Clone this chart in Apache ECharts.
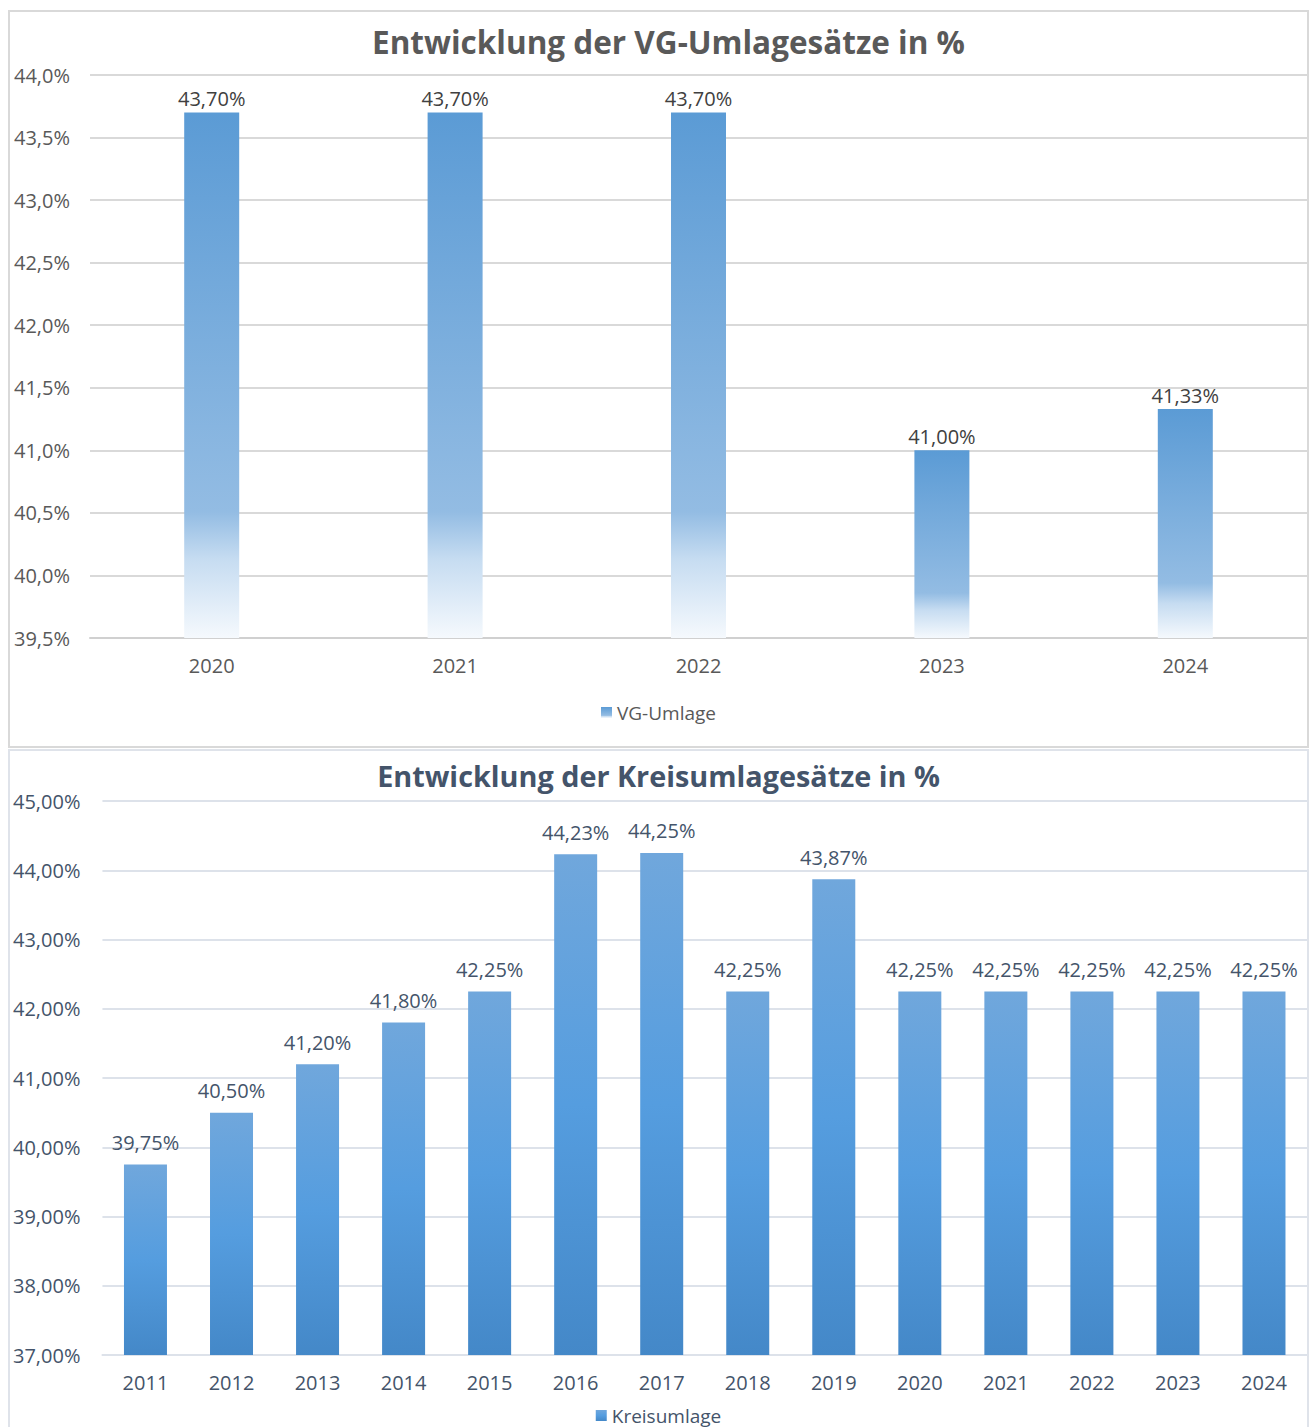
<!DOCTYPE html>
<html>
<head>
<meta charset="utf-8">
<script src="https://cdn.jsdelivr.net/npm/echarts@6/dist/echarts.min.js"></script>
<style>
  html, body { margin: 0; padding: 0; background: #fff; overflow: hidden; }
  .frame { position: absolute; left: 8px; width: 1297px; border: 2px solid #d9d9d9; background: #fff; }
  #top-frame { top: 10px; height: 734px; }
  #bottom-frame { top: 749px; height: 680px; border-color: #dfe3ea; }
  .chart { width: 100%; height: 100%; }
</style>
</head>
<body>
<div class="frame" id="top-frame"><div class="chart" id="chart-vg"></div></div>
<div class="frame" id="bottom-frame"><div class="chart" id="chart-kreis"></div></div>
<script>
// VG-Umlage (top)
var vgYears = ['2020', '2021', '2022', '2023', '2024'];
var vgRates = [43.70, 43.70, 43.70, 41.00, 41.33];
var vgTicks = { min: 39.5, max: 44.0, interval: 0.5 };

// Kreisumlage (bottom)
var kreisYears = ['2011', '2012', '2013', '2014', '2015', '2016', '2017', '2018', '2019', '2020', '2021', '2022', '2023', '2024'];
var kreisRates = [39.75, 40.50, 41.20, 41.80, 42.25, 44.23, 44.25, 42.25, 43.87, 42.25, 42.25, 42.25, 42.25, 42.25];
var kreisTicks = { min: 37, max: 45, interval: 1 };

var font = '"Open Sans", "DejaVu Sans", sans-serif';
function pct(v, d) { return v.toFixed(d).replace('.', ',') + '%'; }

// --- Chart: VG-Umlagesätze ---
var fadeBar = new echarts.graphic.LinearGradient(0, 0, 0, 1, [
  { offset: 0, color: '#5b9bd5' },
  { offset: 0.76, color: '#93bce3' },
  { offset: 0.85, color: '#c6dcf1' },
  { offset: 1, color: '#f5f9fd' }
]);
var chartVg = echarts.init(document.getElementById('chart-vg'), null, { renderer: 'svg' });
chartVg.setOption({
  animation: false,
  textStyle: { fontFamily: font },
  title: {
    text: 'Entwicklung der VG-Umlagesätze in %',
    left: 357, top: 8,
    textStyle: { fontFamily: font, fontSize: 31.5, fontWeight: 'bold', color: '#595959' }
  },
  legend: {
    bottom: 19, left: 'center',
    itemWidth: 11, itemHeight: 11, itemGap: 6,
    textStyle: { color: '#595959', fontSize: 19, fontFamily: font },
    data: [{ name: 'VG-Umlage', icon: 'rect' }]
  },
  grid: { left: 80, right: 0, top: 63, bottom: 108 },
  xAxis: {
    type: 'category',
    data: vgYears,
    axisLine: { lineStyle: { color: '#d0d0d0', width: 2 } },
    axisTick: { show: false },
    axisLabel: { color: '#595959', fontSize: 20, margin: 17 }
  },
  yAxis: {
    type: 'value',
    min: vgTicks.min, max: vgTicks.max, interval: vgTicks.interval,
    axisLabel: { color: '#595959', fontSize: 20, margin: 20, formatter: function(v) { return pct(v, 1); } },
    splitLine: { lineStyle: { color: '#d9d9d9', width: 2 } },
    axisLine: { show: false }, axisTick: { show: false }
  },
  series: [{
    name: 'VG-Umlage',
    type: 'bar',
    data: vgRates,
    barWidth: 55,
    itemStyle: { color: fadeBar },
    label: {
      show: true, position: 'top', distance: 4,
      color: '#404040', fontSize: 20,
      formatter: function(p) { return pct(p.value, 2); }
    }
  }]
});

// --- Chart: Kreisumlagesätze ---
var solidBar = new echarts.graphic.LinearGradient(0, 0, 0, 1, [
  { offset: 0, color: '#70a7dc' },
  { offset: 0.5, color: '#559ddf' },
  { offset: 1, color: '#4488c8' }
]);
var chartKreis = echarts.init(document.getElementById('chart-kreis'), null, { renderer: 'svg' });
chartKreis.setOption({
  animation: false,
  textStyle: { fontFamily: font },
  title: {
    text: 'Entwicklung der Kreisumlagesätze in %',
    left: 'center', top: 5,
    textStyle: { fontFamily: font, fontSize: 28.8, fontWeight: 'bold', color: '#44546a' }
  },
  legend: {
    top: 650, left: 'center',
    itemWidth: 11, itemHeight: 11, itemGap: 6,
    textStyle: { color: '#44546a', fontSize: 19, fontFamily: font },
    data: [{ name: 'Kreisumlage', icon: 'rect' }]
  },
  grid: { left: 92, right: 0, top: 50, bottom: 76 },
  xAxis: {
    type: 'category',
    data: kreisYears,
    axisLine: { lineStyle: { color: '#dde2ea', width: 2 } },
    axisTick: { show: false },
    axisLabel: { color: '#44546a', fontSize: 20, margin: 17 }
  },
  yAxis: {
    type: 'value',
    min: kreisTicks.min, max: kreisTicks.max, interval: kreisTicks.interval,
    axisLabel: { color: '#44546a', fontSize: 20, margin: 22, formatter: function(v) { return pct(v, 2); } },
    splitLine: { lineStyle: { color: '#dde2ea', width: 2 } },
    axisLine: { show: false }, axisTick: { show: false }
  },
  series: [{
    name: 'Kreisumlage',
    type: 'bar',
    data: kreisRates,
    barWidth: 43,
    itemStyle: { color: solidBar },
    label: {
      show: true, position: 'top', distance: 12,
      color: '#44546a', fontSize: 20,
      formatter: function(p) { return pct(p.value, 2); }
    }
  }]
});
window.addEventListener('resize', function() { chartVg.resize(); chartKreis.resize(); });
</script>
</body>
</html>
